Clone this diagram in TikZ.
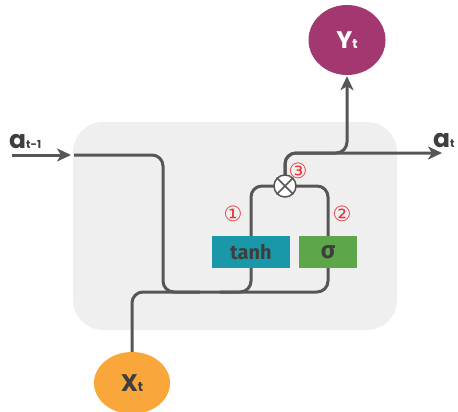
\documentclass[tikz,border=0pt]{standalone}
\usepackage{fontspec}
\setmainfont{Fira Sans}
\newfontfamily\popp{Poppins}
\newfontfamily\dejavu{DejaVu Sans}
\usetikzlibrary{arrows.meta,shapes.geometric}
\definecolor{linec}{HTML}{565656}
\definecolor{bgc}{HTML}{EFEFEF}
\definecolor{tanhc}{HTML}{1A97A8}
\definecolor{sigc}{HTML}{5EA64A}
\definecolor{yc}{HTML}{A2386F}
\definecolor{xc}{HTML}{F9A63B}
\definecolor{txtc}{HTML}{3E3E3E}
\definecolor{redc}{HTML}{E8383D}
\tikzset{
  wire/.style={draw=linec, line width=3pt, rounded corners=11pt},
  arrowwire/.style={wire, -{Stealth[length=14pt,width=13pt,inset=4pt]}},
  gatebox/.style={rectangle, minimum height=32pt, inner sep=0pt, text=txtc, font=\bfseries\fontsize{20}{20}\selectfont},
  blob/.style={ellipse, inner sep=0pt, font=\popp\bfseries\fontsize{24}{24}\selectfont},
  numlabel/.style={text=redc, font=\dejavu\fontsize{21}{21}\selectfont, inner sep=0pt},
  alabel/.style={text=txtc, font=\popp\bfseries\fontsize{25}{25}\selectfont, inner sep=0pt, anchor=base west}
}
\begin{document}
\begin{tikzpicture}[x=1pt,y=-1pt]
\useasboundingbox (0,0) rectangle (458,412);
\fill[bgc, rounded corners=30pt] (73,122) rectangle (397,330);

% nodes
\node[gatebox, fill=tanhc, minimum width=78pt] (tanh) at (251,252) {};
\node[gatebox, fill=sigc, minimum width=58pt] (sig) at (328,252) {};
\node[circle, minimum size=22pt, inner sep=0pt] (mul) at (285,186) {};
\node[blob, fill=yc, minimum width=77pt, minimum height=70pt] (Y) at (347,40) {};
\node[blob, fill=xc, minimum width=76pt, minimum height=62pt] (X) at (132,383) {};

\coordinate (ain) at (12,155);
\coordinate (aend) at (71,155);
\coordinate (a0) at (74,155);
\coordinate (a1) at (163,155);
\coordinate (j1) at (200,292);
\coordinate (j2) at (220,292);
\coordinate (jb) at (240,292);
\coordinate (yb) at (347,153);
\coordinate (aout) at (442,153);

% connectors
\draw[arrowwire] (ain) -- (aend);
\draw[wire] (a0) -- (a1) |- (j1);
\draw[wire] (X.north) |- (jb) -| (sig.center) |- (mul.east);
\draw[wire] (j2) -| (tanh.center) |- (mul.west);
\draw[arrowwire] (mul.north) |- (aout);
\draw[arrowwire, shorten >=1pt] (mul.north) |- (yb) -- (Y.south);

% boxes on top
\node[gatebox, fill=tanhc, minimum width=78pt] at (tanh) {tanh};
\node[gatebox, fill=sigc, minimum width=58pt, font=\bfseries\fontsize{24}{24}\selectfont] at (sig) {σ};
\node[circle, draw=linec, line width=1.5pt, fill=white, minimum size=22pt, inner sep=0pt] (mulc) at (mul) {};
\draw[linec, line width=1.5pt] (mulc.45) -- (mulc.225) (mulc.135) -- (mulc.315);
\node[blob, text=white] at (Y) {Y{\fontsize{13}{13}\selectfont t}};
\node[blob, text=txtc] at (X) {X{\fontsize{13}{13}\selectfont t}};

% labels
\node[numlabel] (n1) at (233,214) {①};
\node[numlabel] (n2) at (342,214) {②};
\node[numlabel] (n3) at (298,171) {③};
\node[alabel] (lin) at (9,148) {a{\fontsize{11}{11}\selectfont t-1}};
\node[alabel] (lout) at (433,147) {a{\fontsize{11}{11}\selectfont t}};
\end{tikzpicture}
\end{document}
